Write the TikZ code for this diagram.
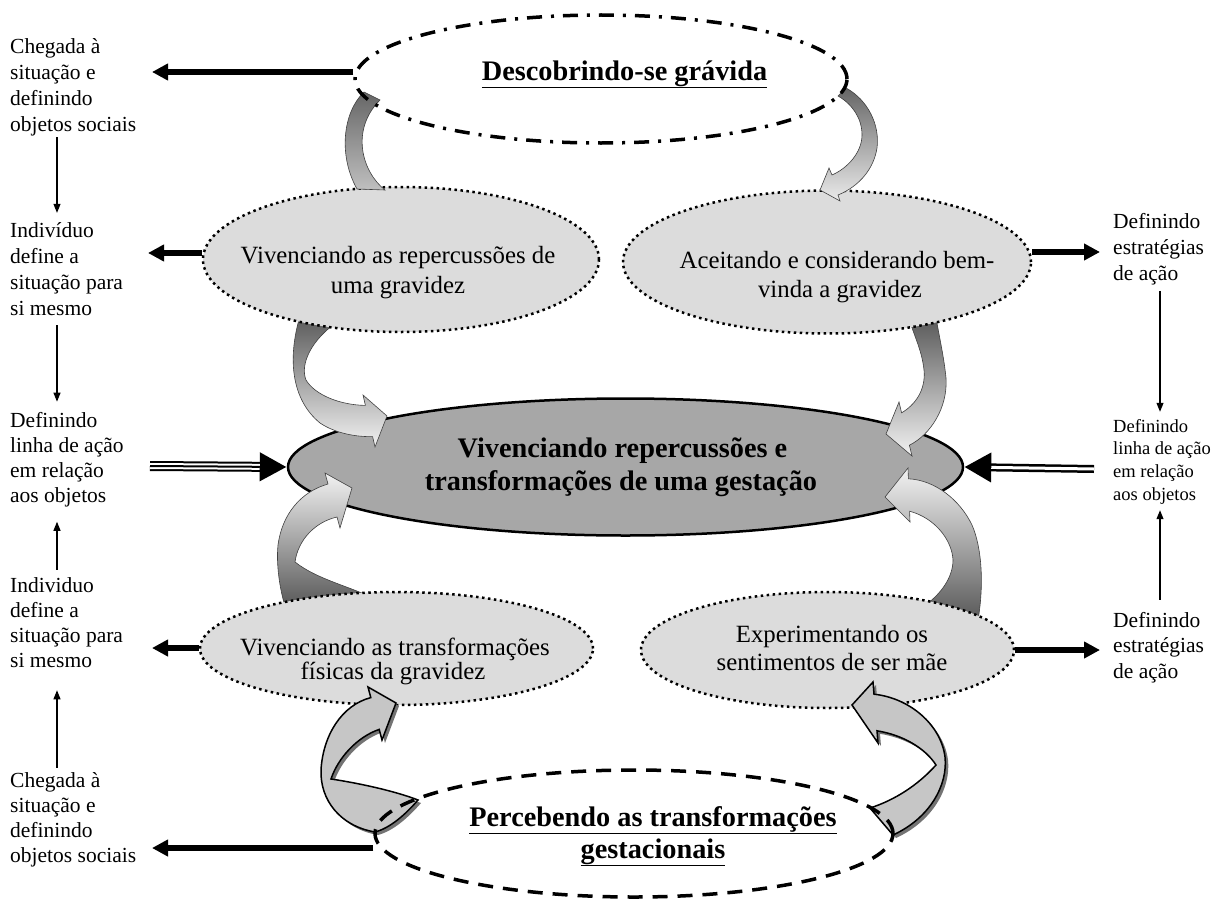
\documentclass[tikz,border=0pt]{standalone}
\usepackage{fontspec}
\setmainfont{Liberation Serif}
\usetikzlibrary{shapes.geometric,arrows.meta}
\definecolor{lightell}{HTML}{DCDCDC}
\definecolor{centell}{HTML}{A7A7A7}
\definecolor{ribfill}{HTML}{C6C6C6}
\tikzset{
  lbl/.style={inner sep=0pt,anchor=base west,font=\fontsize{21.5}{25}\selectfont},
  lblsmall/.style={inner sep=0pt,anchor=base west,font=\fontsize{18.5}{21}\selectfont},
  etext/.style={inner sep=0pt,anchor=base,font=\fontsize{24.8}{28}\selectfont},
  ctext/.style={inner sep=0pt,anchor=base,font=\fontsize{28.3}{32}\selectfont\bfseries},
  btext/.style={inner sep=0pt,anchor=base,font=\fontsize{28.3}{32}\selectfont\bfseries},
  grayell/.style={ellipse,draw,fill=lightell,line width=2.5pt,dash pattern=on 2.5pt off 3.5pt,inner sep=0pt},
  centralell/.style={ellipse,draw,fill=centell,line width=2.5pt,inner sep=0pt},
  dashdotell/.style={ellipse,draw,line width=3.5pt,dash pattern=on 15pt off 9pt on 3pt off 9pt,inner sep=0pt},
  dashell/.style={ellipse,draw,line width=3.5pt,dash pattern=on 15pt off 10pt,inner sep=0pt},
  fatarrow/.style={line width=5.5pt,-{Triangle[length=16pt,width=16pt]}},
  thinarrow/.style={line width=1.1pt,-{Triangle[length=9pt,width=7pt]}},
  rib/.style={draw=black!75,line width=0.6pt},
  ribOne/.style={insert path={(364,92) .. controls (343,112) and (338,155) .. (357,189) -- (385,190) .. controls (362,172) and (350,130) .. (380,100) -- cycle}},
  ribTwo/.style={insert path={(846,88) .. controls (868,100) and (880,125) .. (877,148) .. controls (874,168) and (860,186) .. (838,195) -- (840,201) -- (820,190) -- (829,168) -- (832,175) .. controls (848,168) and (862,152) .. (862,135) .. controls (862,118) and (852,104) .. (838,96) -- cycle}},
  ribThree/.style={insert path={(300,316) .. controls (287,360) and (292,400) .. (320,423) .. controls (335,433) and (355,437) .. (372.6,436.6) -- (375,447) -- (387,416) -- (363,395) -- (365.4,405.4) .. controls (340,405) and (315,395) .. (306,380) .. controls (300,365) and (310,340) .. (340,320) -- cycle}},
  ribFour/.style={insert path={(910,322) .. controls (916,340) and (922,352) .. (924,370) .. controls (926,390) and (915,405) .. (901.6,412.8) -- (899,402) -- (886,434) -- (912,456) -- (909.4,445.2) .. controls (930,435) and (948,408) .. (946,378) .. controls (944,358) and (940,340) .. (936,318) -- cycle}},
  ribFive/.style={insert path={(328,484) -- (325,473) -- (352,488) -- (340,528) -- (337,517) .. controls (315,522) and (298,540) .. (295,562) .. controls (318,580) and (350,586) .. (377,600) -- (285,606) .. controls (280,590) and (276,565) .. (278,545) .. controls (282,515) and (300,492) .. (328,484) -- cycle}},
  ribSix/.style={insert path={(908.4,478.8) -- (908,468) -- (885,497) -- (910,522) -- (909.6,511.2) .. controls (935,518) and (952,540) .. (953,560) .. controls (953,578) and (940,595) .. (924,606) -- (978,620) .. controls (984,585) and (982,548) .. (972,525) .. controls (960,500) and (935,480) .. (908.4,478.8) -- cycle}},
  ribSeven/.style={insert path={(370.8,697.6) -- (368,687) -- (396,703) -- (382,740) -- (379.2,729.4) .. controls (357,737) and (338,758) .. (331,779) .. controls (358,783) and (395,791) .. (418,800) .. controls (405,815) and (390,828) .. (375,832) .. controls (340,826) and (320,800) .. (321,770) .. controls (323,735) and (342,705) .. (370.8,697.6) -- cycle}},
  ribEight/.style={insert path={(874,694.2) -- (873,682) -- (852,705) -- (878,743) -- (877,730.8) .. controls (903,735) and (925,748) .. (936,765) .. controls (918,785) and (895,800) .. (870,808) -- (893,835) .. controls (930,818) and (948,785) .. (945,757) .. controls (941,725) and (910,698) .. (874,694.2) -- cycle}}
}
\begin{document}
\begin{tikzpicture}[x=1pt,y=-1pt]
\useasboundingbox (0,0) rectangle (1212,907);

% central ellipse
\node[centralell,minimum width=675pt,minimum height=137pt] (CE) at (625.5,467) {};

% ribbons into the central ellipse
\path[rib,top color=black!65,middle color=black!30,bottom color=black!5,ribThree];
\path[rib,top color=black!65,middle color=black!30,bottom color=black!5,ribFour];
\path[rib,top color=black!5,middle color=black!25,bottom color=black!65,ribFive];
\path[rib,top color=black!5,middle color=black!25,bottom color=black!65,ribSix];

% gray ellipses
\node[grayell,minimum width=396pt,minimum height=145pt] (VR) at (401,259.5) {};
\node[grayell,minimum width=408pt,minimum height=143pt] (AC) at (827,262) {};
\node[grayell,minimum width=393pt,minimum height=113pt] (VT) at (396.5,648.5) {};
\node[grayell,minimum width=373pt,minimum height=116pt] (EX) at (827.5,650) {};

% ribbons from the top and bottom ellipses
\path[rib,top color=black!60,bottom color=black!25,ribOne];
\path[rib,top color=black!60,middle color=black!30,bottom color=black!8,ribTwo];
\fill[black!55,shift={(3,3)},ribSeven];
\draw[line width=1.5pt,fill=ribfill,ribSeven];
\fill[black!55,shift={(3,3)},ribEight];
\draw[line width=1.5pt,fill=ribfill,ribEight];

% top and bottom ellipses
\node[dashdotell,minimum width=492pt,minimum height=128pt] (TopE) at (601,79) {};
\node[dashell,minimum width=518pt,minimum height=127pt] (BE) at (634,833.5) {};

% ellipse texts
\node[btext] (TopEt) at (624.5,80) {\underline{Descobrindo-se grávida}};
\node[etext] (VRt1) at (398,263) {Vivenciando as repercussões de};
\node[etext] (VRt2) at (398,293) {uma gravidez};
\node[etext] (ACt1) at (837,268) {Aceitando e considerando bem-};
\node[etext] (ACt2) at (840,297) {vinda a gravidez};
\node[ctext] (CEt1) at (622.5,457) {Vivenciando repercussões e};
\node[ctext] (CEt2) at (621,490) {transformações de uma gestação};
\node[etext] (VTt1) at (395,655) {Vivenciando as transformações};
\node[etext] (VTt2) at (393,679) {físicas da gravidez};
\node[etext] (EXt1) at (832,642) {Experimentando os};
\node[etext] (EXt2) at (832,670) {sentimentos de ser mãe};
\node[btext] (BEt1) at (653,826) {\underline{Percebendo as transformações}};
\node[btext] (BEt2) at (653,858) {\underline{gestacionais}};

% side labels
\foreach \t [count=\i] in {Chegada à,situação e,definindo,objetos sociais}
  \node[lbl] (La-\i) at (10,{53+26*(\i-1)}) {\t};
\foreach \t [count=\i] in {Indivíduo,define a,situação para,si mesmo}
  \node[lbl] (Lb-\i) at (10,{237+26*(\i-1)}) {\t};
\foreach \t [count=\i] in {Definindo,linha de ação,em relação,aos objetos}
  \node[lbl] (Lc-\i) at (10,{427+25*(\i-1)}) {\t};
\foreach \t [count=\i] in {Individuo,define a,situação para,si mesmo}
  \node[lbl] (Ld-\i) at (10,{592+25.3*(\i-1)}) {\t};
\foreach \t [count=\i] in {Chegada à,situação e,definindo,objetos sociais}
  \node[lbl] (Le-\i) at (10,{787+25.3*(\i-1)}) {\t};
\foreach \t [count=\i] in {Definindo,estratégias,de ação}
  \node[lbl] (Ra-\i) at (1113,{228+26*(\i-1)}) {\t};
\foreach \t [count=\i] in {Definindo,linha de ação,em relação,aos objetos}
  \node[lblsmall] (Rb-\i) at (1113,{432+22.7*(\i-1)}) {\t};
\foreach \t [count=\i] in {Definindo,estratégias,de ação}
  \node[lbl] (Rc-\i) at (1113,{627+25.5*(\i-1)}) {\t};

% arrow end points
\coordinate (tL1) at (152,72);
\coordinate (tL2) at (148,253);
\coordinate (sL3) at (150,466);
\coordinate (tL4) at (152,648);
\coordinate (tL5) at (152,848);
\coordinate (tR1) at (1100,252);
\coordinate (sR2) at (1094,469);
\coordinate (tR3) at (1100,650);
\coordinate (lcol) at (57,0);
\coordinate (rcol) at (1160,0);

% thick horizontal arrows
\draw[fatarrow] (TopE.west |- tL1) -- (tL1);
\draw[fatarrow] (VR.west |- tL2) -- (tL2);
\draw[fatarrow] (VT.west |- tL4) -- (tL4);
\draw[fatarrow] (BE.west |- tL5) -- (tL5);
\draw[fatarrow] (AC.east |- tR1) -- (tR1);
\draw[fatarrow] (EX.east |- tR3) -- (tR3);

% triple line arrow (left)
\draw[line width=10pt,-{Triangle[length=27pt,width=27pt]}] (sL3) -- (CE.west);
\draw[white,line width=6pt,shorten >=27pt] (sL3) -- (CE.west);
\draw[line width=2pt,shorten >=27pt] (sL3) -- (CE.west);
% double line arrow (right)
\draw[line width=8pt,-{Triangle[length=27pt,width=28pt]}] (sR2) -- (CE.east);
\draw[white,line width=3pt,shorten >=27pt] (sR2) -- (CE.east);

% thin vertical arrows
\draw[thinarrow,shorten <=1.5pt,shorten >=9pt] (La-4.south -| lcol) -- (Lb-1.north -| lcol);
\draw[thinarrow,shorten <=10pt,shorten >=10pt] (Lb-4.south -| lcol) -- (Lc-1.north -| lcol);
\draw[thinarrow,shorten <=7pt,shorten >=15pt] (Ld-1.north -| lcol) -- (Lc-4.south -| lcol);
\draw[thinarrow,shorten <=4pt,shorten >=22pt] (Le-1.north -| lcol) -- (Ld-4.south -| lcol);
\draw[thinarrow,shorten <=6pt,shorten >=7pt] (Ra-3.south -| rcol) -- (Rb-1.north -| rcol);
\draw[thinarrow,shorten <=12pt,shorten >=6pt] (Rc-1.north -| rcol) -- (Rb-4.south -| rcol);
\end{tikzpicture}
\end{document}
